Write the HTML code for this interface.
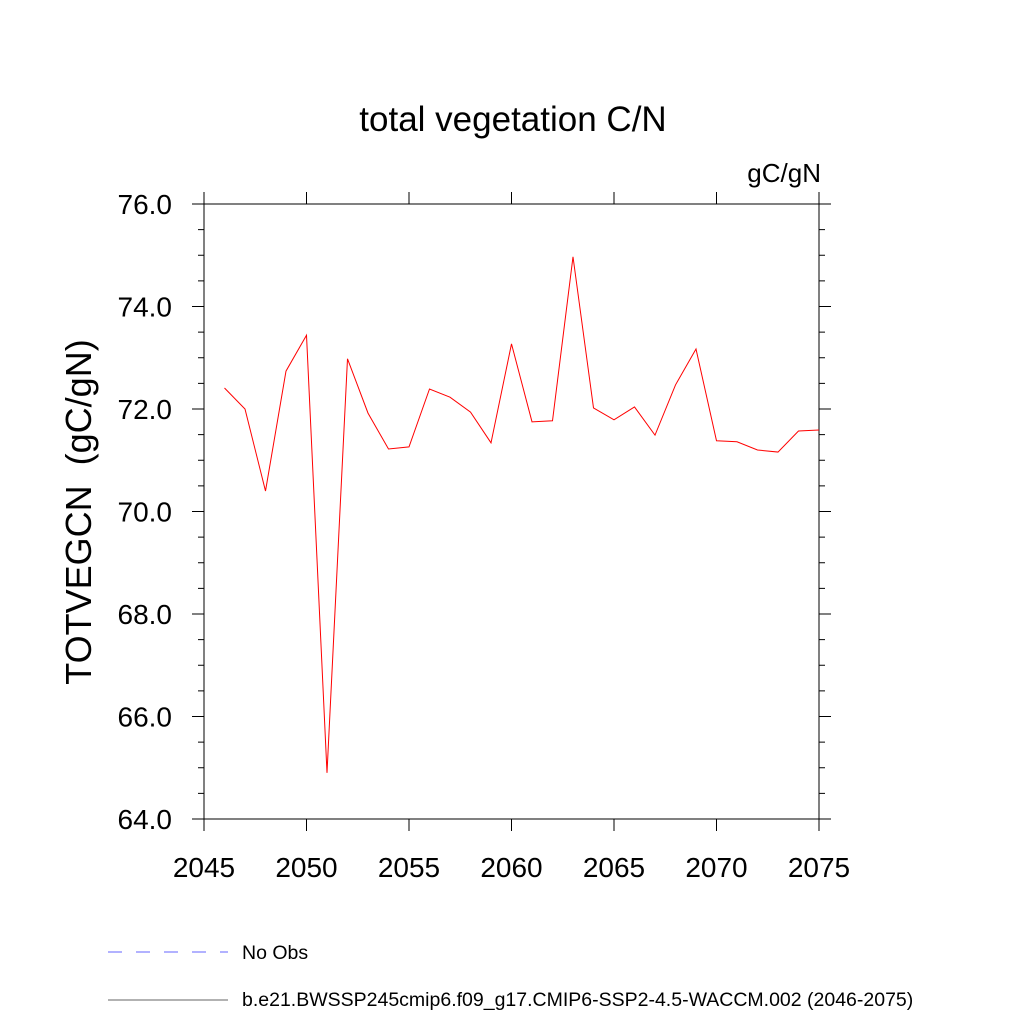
<!DOCTYPE html>
<html><head><meta charset="utf-8"><style>
body{margin:0;background:#fff;}
svg text{font-family:"Liberation Sans",sans-serif;fill:#000;}
</style></head><body>
<svg id="chart" width="1024" height="1024" viewBox="0 0 1024 1024" xmlns="http://www.w3.org/2000/svg">
<text x="513" y="131" font-size="35" text-anchor="middle">total vegetation C/N</text>
<text x="821" y="182" font-size="26" text-anchor="end">gC/gN</text>
<text transform="translate(91,512) rotate(-90)" font-size="36" text-anchor="middle" xml:space="preserve">TOTVEGCN  (gC/gN)</text>
<g id="axes"></g>
<polyline id="series" fill="none" stroke="#ff0000" stroke-width="1"/>
<line x1="108" y1="952" x2="228" y2="952" stroke="#6666ff" stroke-width="1" stroke-dasharray="14,14"/>
<text x="242" y="959" font-size="19.5">No Obs</text>
<line x1="108" y1="1000" x2="228" y2="1000" stroke="#666" stroke-width="1"/>
<text x="242" y="1006" font-size="19.5">b.e21.BWSSP245cmip6.f09_g17.CMIP6-SSP2-4.5-WACCM.002 (2046-2075)</text>
</svg>
<script>
const years=[2046,2047,2048,2049,2050,2051,2052,2053,2054,2055,2056,2057,2058,2059,2060,2061,2062,2063,2064,2065,2066,2067,2068,2069,2070,2071,2072,2073,2074,2075];
const values=[72.41,72.0,70.40,72.74,73.44,64.90,72.98,71.92,71.22,71.26,72.39,72.23,71.94,71.34,73.27,71.75,71.77,74.97,72.02,71.79,72.04,71.49,72.47,73.17,71.38,71.36,71.20,71.16,71.57,71.59];
const xTicks=[2045,2050,2055,2060,2065,2070,2075];
const yTicks=[64,66,68,70,72,74,76];
const xMin=2045,xMax=2075,yMin=64,yMax=76;
const L=204,R=819,T=204,B=819;
const sx=v=>L+(v-xMin)/(xMax-xMin)*(R-L);
const sy=v=>B-(v-yMin)/(yMax-yMin)*(B-T);
const NS='http://www.w3.org/2000/svg';
const ax=document.getElementById('axes');
function ln(x1,y1,x2,y2,name){const e=document.createElementNS(NS,'line');
e.setAttribute('x1',x1);e.setAttribute('y1',y1);e.setAttribute('x2',x2);e.setAttribute('y2',y2);
e.setAttribute('stroke','#000');e.setAttribute('stroke-width','1');


ax.appendChild(e);}
function tx(x,y,s,anchor,name){const e=document.createElementNS(NS,'text');
e.setAttribute('x',x);e.setAttribute('y',y);e.setAttribute('font-size','28');e.setAttribute('text-anchor',anchor);e.textContent=s;


ax.appendChild(e);}
const r=document.createElementNS(NS,'rect');
r.setAttribute('x',L);r.setAttribute('y',T);r.setAttribute('width',R-L);r.setAttribute('height',B-T);
r.setAttribute('fill','none');r.setAttribute('stroke','#000');


ax.appendChild(r);
for(let v=yMin;v<=yMax+1e-9;v+=0.5){const y=sy(v);const major=Math.abs(v%2)<1e-9;const len=major?12:6;
ln(L-len,y,L,y,'y-tick');ln(R,y,R+len,y,'y-tick-right');}
yTicks.forEach(v=>tx(L-32,sy(v)+10,v.toFixed(1),'end','y-tick-label'));
for(let v=xMin;v<=xMax;v+=5){const x=sx(v);
ln(x,B,x,B+12,'x-tick');ln(x,T-12,x,T,'x-tick-top');}
xTicks.forEach(v=>tx(sx(v),B+58,String(v),'middle','x-tick-label'));
document.getElementById('series').setAttribute('points',years.map((y,i)=>sx(y)+','+sy(values[i])).join(' '));
</script>
</body></html>
